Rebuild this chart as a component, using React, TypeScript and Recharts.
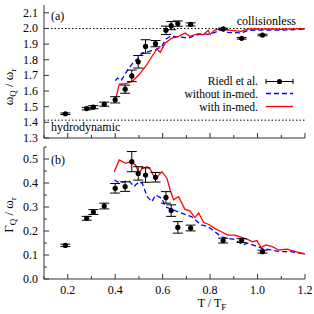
import { ComposedChart, Line, Scatter, ErrorBar, XAxis, YAxis, ReferenceLine } from 'recharts'

// experimental temperatures (T / T_F), shared by both panels
const expT = [0.19, 0.28, 0.308, 0.354, 0.4, 0.442, 0.47, 0.497, 0.528, 0.57, 0.614, 0.636, 0.664, 0.718, 0.855, 0.933, 1.021]
const expOmega = [1.455, 1.488, 1.497, 1.516, 1.544, 1.612, 1.697, 1.787, 1.885, 1.903, 1.988, 2.018, 2.031, 2.026, 1.997, 1.937, 1.958]
const expOmegaErr = [0.005, 0.008, 0.01, 0.013, 0.02, 0.026, 0.037, 0.04, 0.043, 0.02, 0.027, 0.026, 0.017, 0.01, 0.005, 0.005, 0.005]
const expGamma = [0.14, 0.253, 0.279, 0.304, 0.378, 0.385, 0.489, 0.44, 0.433, 0.424, 0.34, 0.285, 0.215, 0.2125, 0.16, 0.16, 0.114]
const expGammaErr = [0.005, 0.008, 0.01, 0.012, 0.02, 0.02, 0.042, 0.028, 0.03, 0.02, 0.024, 0.024, 0.024, 0.012, 0.01, 0.008, 0.006]

// theory, frequency
const withT_a = [0.4, 0.417, 0.445, 0.472, 0.5, 0.528, 0.555, 0.576, 0.59, 0.611, 0.639, 0.667, 0.695, 0.715, 0.75, 0.771, 0.792, 0.8, 0.82, 0.847, 0.88, 0.93, 0.96, 1.0, 1.05, 1.1, 1.15, 1.2]
const withOmega = [1.533, 1.645, 1.648, 1.661, 1.704, 1.757, 1.821, 1.869, 1.847, 1.907, 1.939, 1.95, 1.971, 1.95, 1.967, 1.96, 1.988, 1.962, 1.99, 1.999, 1.99, 1.982, 1.998, 1.995, 1.997, 1.995, 1.998, 1.998]
const woT_a = [0.4, 0.41, 0.425, 0.451, 0.479, 0.5, 0.514, 0.542, 0.57, 0.597, 0.611, 0.632, 0.667, 0.708, 0.736, 0.764, 0.79, 0.82, 0.847, 0.875, 0.93, 0.96, 1.0, 1.1, 1.2]
const woOmega = [1.667, 1.683, 1.667, 1.73, 1.789, 1.811, 1.843, 1.853, 1.864, 1.885, 1.928, 1.95, 1.946, 1.939, 1.954, 1.967, 1.962, 1.975, 1.99, 1.975, 1.971, 1.988, 1.99, 1.99, 1.995]

// theory, damping
const withT_b = [0.396, 0.417, 0.445, 0.465, 0.486, 0.5, 0.514, 0.535, 0.549, 0.57, 0.583, 0.597, 0.618, 0.632, 0.646, 0.667, 0.694, 0.715, 0.736, 0.752, 0.772, 0.799, 0.819, 0.847, 0.875, 0.903, 0.93, 0.958, 0.979, 0.997, 1.014, 1.035, 1.062, 1.09, 1.125, 1.16, 1.2]
const withGamma = [0.447, 0.496, 0.482, 0.489, 0.475, 0.44, 0.461, 0.468, 0.457, 0.4125, 0.433, 0.447, 0.42, 0.37, 0.33, 0.343, 0.29, 0.284, 0.256, 0.275, 0.236, 0.225, 0.211, 0.197, 0.183, 0.183, 0.174, 0.165, 0.155, 0.16, 0.132, 0.142, 0.135, 0.121, 0.124, 0.114, 0.104]
const woT_b = [0.396, 0.417, 0.4375, 0.458, 0.479, 0.5, 0.514, 0.535, 0.555, 0.57, 0.597, 0.611, 0.646, 0.68, 0.701, 0.722, 0.764, 0.792, 0.82, 0.847, 0.875, 0.903, 0.9375, 0.958, 1.0, 1.02, 1.055, 1.097, 1.139, 1.2]
const woGamma = [0.4125, 0.401, 0.405, 0.41, 0.385, 0.405, 0.399, 0.343, 0.322, 0.35, 0.336, 0.301, 0.2875, 0.274, 0.267, 0.26, 0.225, 0.218, 0.197, 0.176, 0.169, 0.165, 0.142, 0.149, 0.135, 0.128, 0.121, 0.114, 0.114, 0.104]

const xTicks = [0.1, 0.2, 0.3, 0.4, 0.5, 0.6, 0.7, 0.8, 0.9, 1.0, 1.1, 1.2]
const yTicksA = [1.3, 1.4, 1.5, 1.6, 1.7, 1.8, 1.9, 2.0, 2.1]
const yTicksB = [0, 0.05, 0.1, 0.15, 0.2, 0.25, 0.3, 0.35, 0.4, 0.45, 0.5, 0.55]

const FONT = 'Liberation Serif'
const AX = '#333'
const W = 314

const zip = (xs: number[], ys: number[], es?: number[]) =>
  xs.map((x, i) => ({ x, y: ys[i], err: es ? es[i] : 0 }))

const isMajorX = (v: number) => Math.round(v * 10) % 2 === 0
const isMajorY5 = (v: number) => Math.round(v * 100) % 10 === 0

function makeTick(side: 'bottom' | 'top' | 'left' | 'right', major: (v: number) => boolean, label: boolean) {
  return (props: any) => {
    const { x, y, payload } = props
    const v = payload.value as number
    const len = major(v) ? 5 : 3
    let line
    if (side === 'bottom') line = <line x1={x} y1={y} x2={x} y2={y - len} stroke={AX} />
    else if (side === 'top') line = <line x1={x} y1={y} x2={x} y2={y + len} stroke={AX} />
    else if (side === 'left') line = <line x1={x} y1={y} x2={x + len} y2={y} stroke={AX} />
    else line = <line x1={x} y1={y} x2={x - len} y2={y} stroke={AX} />
    let text = null
    if (label && major(v)) {
      if (side === 'bottom')
        text = <text x={x} y={y + 15} textAnchor="middle" fontFamily={FONT} fontSize={12} fill="#000">{v.toFixed(1)}</text>
      else if (side === 'left')
        text = <text x={x - 6} y={y + 4} textAnchor="end" fontFamily={FONT} fontSize={12} fill="#000">{v.toFixed(1)}</text>
    }
    return <g>{line}{text}</g>
  }
}

const dot = (p: any) => <circle cx={p.cx} cy={p.cy} r={2.6} fill="#000" />

const txt = { fontFamily: FONT, fontSize: 12, fill: '#000' }

export default function App() {
  const dataExpA = zip(expT, expOmega, expOmegaErr)
  const dataExpB = zip(expT, expGamma, expGammaErr)

  return (
    <div style={{ position: 'absolute', left: 0, top: 0, width: W, height: 314, background: '#fff' }}>
      <div style={{ position: 'absolute', left: 0, top: 143, zIndex: 0 }}>
        <ComposedChart width={W} height={171} margin={{ top: 4, right: 9, bottom: 0, left: 0 }}>
          <XAxis type="number" dataKey="x" domain={[0.1, 1.2]} ticks={xTicks} allowDataOverflow height={35}
            tickSize={0} tickMargin={0} tick={makeTick('bottom', isMajorX, true)} stroke={AX} interval={0} />
          <XAxis xAxisId="top" orientation="top" type="number" dataKey="x" domain={[0.1, 1.2]} ticks={xTicks} allowDataOverflow height={0}
            tickSize={0} tickMargin={0} tick={makeTick('top', isMajorX, false)} stroke={AX} interval={0} />
          <YAxis type="number" domain={[0, 0.55]} ticks={yTicksB} allowDataOverflow width={44}
            tickSize={0} tickMargin={0} tick={makeTick('left', isMajorY5, true)} stroke={AX} interval={0} />
          <YAxis yAxisId="right" orientation="right" type="number" domain={[0, 0.55]} ticks={yTicksB} allowDataOverflow width={0}
            tickSize={0} tickMargin={0} tick={makeTick('right', isMajorY5, false)} stroke={AX} interval={0} />
          <Line data={zip(woT_b, woGamma)} dataKey="y" stroke="#0000ff" strokeWidth={1.3} strokeDasharray="5 3" dot={false} isAnimationActive={false} />
          <Line data={zip(withT_b, withGamma)} dataKey="y" stroke="#ff0000" strokeWidth={1.3} dot={false} isAnimationActive={false} />
          <Scatter data={dataExpB} dataKey="y" shape={dot} isAnimationActive={false}>
            <ErrorBar dataKey="err" direction="y" width={5} stroke="#000" strokeWidth={1} />
          </Scatter>
          <text x={51} y={21} {...txt}>(b)</text>
          <text transform="translate(13,72) rotate(-90)" textAnchor="middle" {...txt} fontSize={13}>
            Γ<tspan fontSize={9} dy={3}>Q</tspan><tspan dy={-3}> / ω</tspan><tspan fontSize={9} dy={3}>r</tspan>
          </text>
          <text x={212} y={164} textAnchor="middle" {...txt}>
            T / T<tspan fontSize={9} dy={3}>F</tspan>
          </text>
        </ComposedChart>
      </div>
      <div style={{ position: 'absolute', left: 0, top: 0, zIndex: 2 }}>
        <ComposedChart width={W} height={150} margin={{ top: 5, right: 9, bottom: 0, left: 0 }}>
          <XAxis type="number" dataKey="x" domain={[0.1, 1.2]} ticks={xTicks} allowDataOverflow height={12}
            tickSize={0} tickMargin={0} tick={makeTick('bottom', isMajorX, false)} stroke={AX} interval={0} />
          <XAxis xAxisId="top" orientation="top" type="number" dataKey="x" domain={[0.1, 1.2]} ticks={xTicks} allowDataOverflow height={0}
            tickSize={0} tickMargin={0} tick={makeTick('top', isMajorX, false)} stroke={AX} interval={0} />
          <YAxis type="number" domain={[1.3, 2.15]} ticks={yTicksA} allowDataOverflow width={44}
            tickSize={0} tickMargin={0} tick={makeTick('left', () => true, true)} stroke={AX} interval={0} />
          <YAxis yAxisId="right" orientation="right" type="number" domain={[1.3, 2.15]} ticks={yTicksA} allowDataOverflow width={0}
            tickSize={0} tickMargin={0} tick={makeTick('right', () => true, false)} stroke={AX} interval={0} />
          <ReferenceLine y={2.0} stroke="#000" strokeDasharray="1.5 2" />
          <ReferenceLine y={1.414} stroke="#000" strokeDasharray="1.5 2" />
          <Line data={zip(woT_a, woOmega)} dataKey="y" stroke="#0000ff" strokeWidth={1.3} strokeDasharray="5 3" dot={false} isAnimationActive={false} />
          <Line data={zip(withT_a, withOmega)} dataKey="y" stroke="#ff0000" strokeWidth={1.3} dot={false} isAnimationActive={false} />
          <Scatter data={dataExpA} dataKey="y" shape={dot} isAnimationActive={false}>
            <ErrorBar dataKey="err" direction="y" width={5} stroke="#000" strokeWidth={1} />
          </Scatter>
          <text x={51} y={20} {...txt}>(a)</text>
          <text x={296} y={25} textAnchor="end" {...txt}>collisionless</text>
          <text x={51} y={131} {...txt}>hydrodynamic</text>
          <text x={258} y={85} textAnchor="end" {...txt} fontSize={11.5}>Riedl et al.</text>
          <text x={258} y={97.5} textAnchor="end" {...txt} fontSize={11.5}>without in-med.</text>
          <text x={258} y={110.5} textAnchor="end" {...txt} fontSize={11.5}>with in-med.</text>
          <line x1={266} y1={81.5} x2={293} y2={81.5} stroke="#000" />
          <line x1={266} y1={79} x2={266} y2={84} stroke="#000" />
          <line x1={293} y1={79} x2={293} y2={84} stroke="#000" />
          <circle cx={279.5} cy={81.5} r={2.6} fill="#000" />
          <line x1={266} y1={93.5} x2={293} y2={93.5} stroke="#0000ff" strokeWidth={1.3} strokeDasharray="5 3" />
          <line x1={266} y1={106.5} x2={293} y2={106.5} stroke="#ff0000" strokeWidth={1.3} />
          <text transform="translate(13,87) rotate(-90)" textAnchor="middle" {...txt} fontSize={13}>
            ω<tspan fontSize={9} dy={3}>Q</tspan><tspan dy={-3}> / ω</tspan><tspan fontSize={9} dy={3}>r</tspan>
          </text>
        </ComposedChart>
      </div>
    </div>
  )
}
